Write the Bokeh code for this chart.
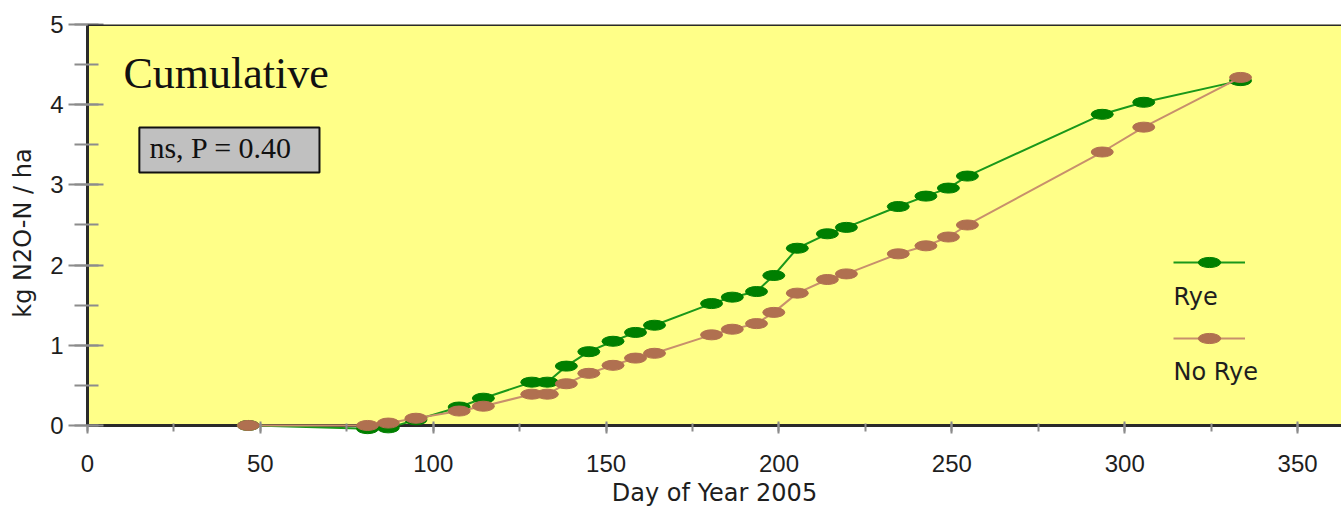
from bokeh.plotting import figure
from bokeh.models import (Range1d, SingleIntervalTicker, BoxAnnotation, Span,
                          Label, Legend, LegendItem)
from bokeh.embed import file_html
from bokeh.resources import INLINE

# ---- data ----
days = [46.5, 81, 87, 95, 107.5, 114.5, 128.5, 133, 138.5, 145, 152, 158.5, 164,
        180.5, 186.5, 193.5, 198.5, 205.3, 214, 219.5, 234.5, 242.5, 249, 254.5,
        293.5, 305.5, 333.5]
rye = [0.0, -0.04, -0.03, 0.07, 0.23, 0.34, 0.54, 0.54, 0.74, 0.92, 1.05, 1.16, 1.25,
       1.52, 1.60, 1.67, 1.87, 2.21, 2.39, 2.47, 2.73, 2.86, 2.96, 3.11,
       3.88, 4.03, 4.30]
no_rye = [0.0, 0.0, 0.03, 0.09, 0.18, 0.24, 0.39, 0.39, 0.52, 0.65, 0.75, 0.84, 0.90,
          1.13, 1.20, 1.27, 1.41, 1.65, 1.82, 1.89, 2.14, 2.24, 2.35, 2.50,
          3.41, 3.72, 4.34]
series_names = ["Rye", "No Rye"]
title_text = "Cumulative"
stat_text = "ns, P = 0.40"
x_title = "Day of Year 2005"
y_title = "kg N2O-N / ha"

GREEN_LINE = "#1a981a"
GREEN_MARK = "#007f00"
BROWN_LINE = "#c8906c"
BROWN_MARK = "#b07050"
YELLOW = "#ffff88"
AXIS = "#2a2a2a"
TICK = "#8c8c8c"
TXT = "#1e1e1e"
SANS = "Liberation Sans"
WIDE = "DejaVu Sans"
SERIF = "Liberation Serif"

p = figure(width=1341, height=510, output_backend="svg", toolbar_location=None,
           x_range=Range1d(0, 362.7), y_range=Range1d(-0.2, 5),
           min_border_left=87, min_border_right=0, min_border_top=24,
           min_border_bottom=69)
p.background_fill_color = "white"
p.border_fill_color = "white"
p.outline_line_color = None
p.grid.visible = False

p.add_layout(BoxAnnotation(bottom=0, top=5, fill_color=YELLOW, fill_alpha=1,
                           line_color=None, level="underlay"))
p.add_layout(Span(location=0, dimension="width", line_color=AXIS, line_width=3,
                  level="underlay"))
p.add_layout(Span(location=5, dimension="width", line_color=AXIS, line_width=3))

# x axis: sits at the frame bottom; ticks shifted up onto the y = 0 line
xa = p.xaxis[0]
xa.ticker = SingleIntervalTicker(interval=50, num_minor_ticks=2)
xa.axis_line_color = None
xa.major_tick_line_color = TICK
xa.minor_tick_line_color = TICK
xa.major_tick_line_width = 2
xa.minor_tick_line_width = 2
xa.major_tick_in = 20
xa.major_tick_out = -8
xa.minor_tick_in = 18
xa.minor_tick_out = -10
xa.major_label_text_font = SANS
xa.major_label_text_font_size = "24px"
xa.major_label_text_color = TXT
xa.major_label_standoff = 21
xa.axis_label = x_title
xa.axis_label_text_font = WIDE
xa.axis_label_text_font_size = "24px"
xa.axis_label_text_font_style = "normal"
xa.axis_label_text_color = TXT
xa.axis_label_standoff = 4

ya = p.yaxis[0]
ya.ticker = SingleIntervalTicker(interval=1, num_minor_ticks=2)
ya.bounds = (0, 5)
ya.axis_line_color = AXIS
ya.axis_line_width = 3
ya.major_tick_line_color = TICK
ya.minor_tick_line_color = TICK
ya.major_tick_line_width = 2
ya.minor_tick_line_width = 2
ya.major_tick_out = 19
ya.major_tick_in = 16
ya.minor_tick_out = 13
ya.minor_tick_in = 11
ya.major_label_text_font = SANS
ya.major_label_text_font_size = "24px"
ya.major_label_text_color = TXT
ya.major_label_standoff = 5
ya.axis_label = y_title
ya.axis_label_text_font = WIDE
ya.axis_label_text_font_size = "24px"
ya.axis_label_text_font_style = "normal"
ya.axis_label_text_color = TXT
ya.axis_label_standoff = 10

# series
g_line = p.line(days, rye, line_color=GREEN_LINE, line_width=2)
g_mark = p.ellipse(days, rye, width=22, height=10, width_units="screen",
                   height_units="screen", fill_color=GREEN_MARK, line_color=GREEN_MARK)
b_line = p.line(days, no_rye, line_color=BROWN_LINE, line_width=2)
b_mark = p.ellipse(days, no_rye, width=22, height=10, width_units="screen",
                   height_units="screen", fill_color=BROWN_MARK, line_color=BROWN_MARK)

# legend (glyph samples only; text placed below each sample)
legend = Legend(items=[LegendItem(label=" ", renderers=[g_line, g_mark]),
                       LegendItem(label=" ", renderers=[b_line, b_mark])],
                location=(1086, 89), glyph_width=72, glyph_height=28, spacing=48,
                padding=0, margin=0, border_line_color=None,
                background_fill_alpha=0, label_text_font_size="2px",
                label_standoff=2)
p.add_layout(legend)

p.add_layout(Label(x=314.1, y=1.599, text=series_names[0], text_font=WIDE,
                   text_font_size="24px", text_color=TXT,
                   text_baseline="alphabetic"))
p.add_layout(Label(x=314.1, y=0.664, text=series_names[1], text_font=WIDE,
                   text_font_size="24px", text_color=TXT,
                   text_baseline="alphabetic"))

# title and statistics box
p.add_layout(Label(x=10.4, y=4.391, text=title_text, text_font=SERIF,
                   text_font_size="44px", text_color="#111111",
                   text_baseline="alphabetic"))
p.add_layout(BoxAnnotation(left=15.0, right=67.1, bottom=3.155, top=3.716,
                           fill_color="#c0c0c0", fill_alpha=1, line_color="#111111",
                           line_alpha=1, line_width=2))
p.add_layout(Label(x=17.9, y=3.465, text=stat_text, text_font=SERIF,
                   text_font_size="30px", text_color="#111111",
                   text_baseline="alphabetic"))

open("out.html", "w").write(file_html(p, INLINE))
